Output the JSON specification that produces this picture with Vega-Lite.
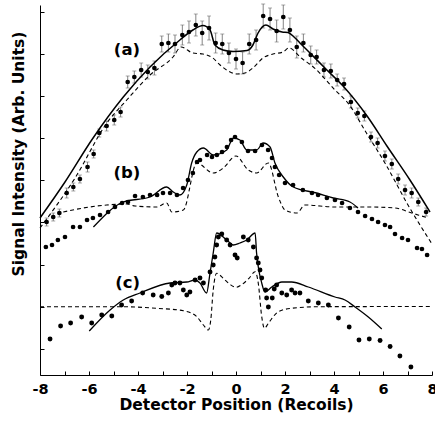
{
  "$schema": "https://vega.github.io/schema/vega-lite/v6.json",
  "width": 392,
  "height": 370,
  "autosize": {"type": "none"},
  "padding": {"left": 40, "top": 5, "right": 3, "bottom": 48},
  "background": "white",
  "config": {
    "view": {"stroke": null},
    "font": "DejaVu Sans",
    "axis": {
      "grid": false,
      "domainColor": "black",
      "domainWidth": 1,
      "tickColor": "black",
      "tickSize": -4,
      "tickWidth": 1,
      "labelFont": "DejaVu Sans",
      "labelFontWeight": "bold",
      "labelFontSize": 14.5,
      "labelColor": "black",
      "titleFont": "DejaVu Sans",
      "titleFontWeight": "bold",
      "titleFontSize": 15.5,
      "titleColor": "black"
    }
  },
  "datasets": {
    "a_pts": [
      {"x": -7.73, "y": 153, "e": 4}, {"x": -7.46, "y": 158, "e": 4}, {"x": -7.21, "y": 162, "e": 4},
      {"x": -6.91, "y": 182, "e": 5}, {"x": -6.64, "y": 188, "e": 4}, {"x": -6.37, "y": 196, "e": 4},
      {"x": -6.06, "y": 208, "e": 5}, {"x": -5.81, "y": 221, "e": 4}, {"x": -5.58, "y": 242, "e": 4},
      {"x": -5.28, "y": 249, "e": 5}, {"x": -4.97, "y": 255, "e": 5}, {"x": -4.71, "y": 263, "e": 5},
      {"x": -4.42, "y": 293, "e": 6}, {"x": -4.15, "y": 298, "e": 6}, {"x": -3.87, "y": 305, "e": 7},
      {"x": -3.6, "y": 303, "e": 7}, {"x": -3.33, "y": 307, "e": 7}, {"x": -3.03, "y": 331, "e": 8},
      {"x": -2.76, "y": 332, "e": 9}, {"x": -2.49, "y": 331, "e": 9}, {"x": -2.19, "y": 340, "e": 10},
      {"x": -1.92, "y": 343, "e": 11}, {"x": -1.64, "y": 350, "e": 11}, {"x": -1.38, "y": 342, "e": 12},
      {"x": -1.1, "y": 347, "e": 12}, {"x": -0.83, "y": 332, "e": 10}, {"x": -0.56, "y": 331, "e": 10},
      {"x": -0.29, "y": 322, "e": 10}, {"x": 0, "y": 316, "e": 10}, {"x": 0.27, "y": 312, "e": 11},
      {"x": 0.54, "y": 331, "e": 10}, {"x": 0.82, "y": 335, "e": 10}, {"x": 1.11, "y": 359, "e": 12},
      {"x": 1.39, "y": 356, "e": 11}, {"x": 1.66, "y": 344, "e": 11}, {"x": 1.93, "y": 358, "e": 12},
      {"x": 2.2, "y": 345, "e": 12}, {"x": 2.48, "y": 328, "e": 11}, {"x": 2.75, "y": 332, "e": 9},
      {"x": 3.05, "y": 320, "e": 9}, {"x": 3.29, "y": 318, "e": 7}, {"x": 3.59, "y": 305, "e": 7},
      {"x": 3.87, "y": 304, "e": 7}, {"x": 4.13, "y": 295, "e": 6}, {"x": 4.41, "y": 291, "e": 6},
      {"x": 4.69, "y": 273, "e": 6}, {"x": 4.97, "y": 262, "e": 5}, {"x": 5.24, "y": 259, "e": 5},
      {"x": 5.51, "y": 238, "e": 5}, {"x": 5.78, "y": 232, "e": 5}, {"x": 6.08, "y": 219, "e": 5},
      {"x": 6.36, "y": 211, "e": 5}, {"x": 6.62, "y": 196, "e": 5}, {"x": 6.9, "y": 185, "e": 5},
      {"x": 7.17, "y": 182, "e": 5}, {"x": 7.44, "y": 173, "e": 4}, {"x": 7.76, "y": 163, "e": 4}
    ],
    "a_fit": [
      {"x": -8, "y": 157}, {"x": -6.98, "y": 193}, {"x": -5.89, "y": 235}, {"x": -4.6, "y": 278},
      {"x": -3.51, "y": 308}, {"x": -2.29, "y": 335}, {"x": -1.76, "y": 345}, {"x": -1.35, "y": 349.5},
      {"x": -1.06, "y": 345}, {"x": -0.86, "y": 330}, {"x": -0.53, "y": 325}, {"x": -0.12, "y": 323.5},
      {"x": 0.45, "y": 324.5}, {"x": 0.69, "y": 330}, {"x": 0.9, "y": 342}, {"x": 1.22, "y": 350},
      {"x": 1.51, "y": 346}, {"x": 1.88, "y": 343}, {"x": 2.12, "y": 342.5}, {"x": 2.37, "y": 338},
      {"x": 2.61, "y": 332}, {"x": 3.02, "y": 322}, {"x": 3.71, "y": 305}, {"x": 4.37, "y": 289},
      {"x": 5.35, "y": 259}, {"x": 6.16, "y": 229}, {"x": 7.1, "y": 195}, {"x": 7.92, "y": 163}
    ],
    "a_dash": [
      {"x": -8, "y": 147}, {"x": -6.57, "y": 197}, {"x": -5.28, "y": 251.7}, {"x": -4.46, "y": 275},
      {"x": -3.51, "y": 300}, {"x": -2.57, "y": 318}, {"x": -2.24, "y": 328}, {"x": -1.76, "y": 322},
      {"x": -1.35, "y": 321}, {"x": -0.94, "y": 317}, {"x": -0.65, "y": 310}, {"x": -0.24, "y": 303},
      {"x": 0.04, "y": 301}, {"x": 0.37, "y": 302}, {"x": 0.69, "y": 307}, {"x": 1.1, "y": 317},
      {"x": 1.51, "y": 321}, {"x": 1.92, "y": 323}, {"x": 2.16, "y": 327}, {"x": 2.68, "y": 316.7},
      {"x": 3.22, "y": 306.7}, {"x": 4.04, "y": 285}, {"x": 4.58, "y": 271.7}, {"x": 5.33, "y": 241.7},
      {"x": 6.08, "y": 212}, {"x": 7.02, "y": 170}, {"x": 8, "y": 131}
    ],
    "b_pts": [
      {"x": -7.76, "y": 128}, {"x": -7.51, "y": 130}, {"x": -7.27, "y": 135}, {"x": -6.98, "y": 138},
      {"x": -6.65, "y": 148}, {"x": -6.37, "y": 148}, {"x": -6.08, "y": 155}, {"x": -5.84, "y": 157},
      {"x": -5.55, "y": 160}, {"x": -5.22, "y": 163}, {"x": -4.94, "y": 168}, {"x": -4.65, "y": 172},
      {"x": -4.41, "y": 173}, {"x": -4.12, "y": 179}, {"x": -3.8, "y": 178}, {"x": -3.51, "y": 180},
      {"x": -3.22, "y": 180}, {"x": -2.98, "y": 182}, {"x": -2.69, "y": 182}, {"x": -2.41, "y": 180},
      {"x": -2.16, "y": 187}, {"x": -1.96, "y": 195}, {"x": -1.76, "y": 202}, {"x": -1.59, "y": 213},
      {"x": -1.47, "y": 215}, {"x": -1.18, "y": 220}, {"x": -0.98, "y": 218}, {"x": -0.78, "y": 220},
      {"x": -0.57, "y": 223}, {"x": -0.37, "y": 228}, {"x": -0.2, "y": 235}, {"x": -0.04, "y": 238},
      {"x": 0.24, "y": 233}, {"x": 0.49, "y": 224}, {"x": 0.78, "y": 224}, {"x": 1.06, "y": 230},
      {"x": 1.31, "y": 225}, {"x": 1.47, "y": 217}, {"x": 1.59, "y": 208}, {"x": 1.76, "y": 200},
      {"x": 2.0, "y": 192}, {"x": 2.33, "y": 190}, {"x": 2.73, "y": 185}, {"x": 3.1, "y": 182},
      {"x": 3.35, "y": 180}, {"x": 3.71, "y": 177}, {"x": 4.04, "y": 175}, {"x": 4.33, "y": 172},
      {"x": 4.65, "y": 167}, {"x": 4.98, "y": 163}, {"x": 5.27, "y": 159}, {"x": 5.55, "y": 156},
      {"x": 5.8, "y": 153}, {"x": 6.08, "y": 150}, {"x": 6.29, "y": 148}, {"x": 6.49, "y": 141},
      {"x": 6.78, "y": 137}, {"x": 7.02, "y": 135}, {"x": 7.39, "y": 127}, {"x": 7.59, "y": 126},
      {"x": 7.8, "y": 120}
    ],
    "b_fit": [
      {"x": -5.82, "y": 148}, {"x": -4.6, "y": 173}, {"x": -3.51, "y": 178}, {"x": -2.83, "y": 188},
      {"x": -2.56, "y": 183}, {"x": -2.29, "y": 180}, {"x": -2.01, "y": 190}, {"x": -1.81, "y": 212},
      {"x": -1.6, "y": 223}, {"x": -1.33, "y": 227}, {"x": -0.93, "y": 220}, {"x": -0.38, "y": 225},
      {"x": -0.11, "y": 237}, {"x": 0.16, "y": 235}, {"x": 0.44, "y": 225}, {"x": 0.84, "y": 225},
      {"x": 1.11, "y": 232}, {"x": 1.39, "y": 228}, {"x": 1.59, "y": 212}, {"x": 1.93, "y": 198},
      {"x": 2.34, "y": 188}, {"x": 3.29, "y": 182}, {"x": 3.97, "y": 177}, {"x": 4.65, "y": 173},
      {"x": 4.98, "y": 167}
    ],
    "b_dash": [
      {"x": -7.05, "y": 163}, {"x": -6.23, "y": 167}, {"x": -5.28, "y": 170}, {"x": -4.46, "y": 171},
      {"x": -4.12, "y": 169}, {"x": -3.24, "y": 168}, {"x": -2.83, "y": 172}, {"x": -2.62, "y": 163},
      {"x": -2.15, "y": 165}, {"x": -1.6, "y": 212}, {"x": -0.93, "y": 202}, {"x": -0.52, "y": 207},
      {"x": 0, "y": 219}, {"x": 0.5, "y": 205}, {"x": 0.84, "y": 202}, {"x": 1.32, "y": 212},
      {"x": 1.73, "y": 178}, {"x": 2.0, "y": 165}, {"x": 2.48, "y": 162}, {"x": 2.82, "y": 170},
      {"x": 4.04, "y": 168}, {"x": 5.4, "y": 168}, {"x": 6.49, "y": 167}, {"x": 7.17, "y": 162},
      {"x": 7.85, "y": 157}
    ],
    "c_pts": [
      {"x": -7.59, "y": 36}, {"x": -7.16, "y": 49}, {"x": -6.75, "y": 52}, {"x": -6.3, "y": 58},
      {"x": -5.89, "y": 52}, {"x": -5.48, "y": 60}, {"x": -5.07, "y": 59}, {"x": -4.67, "y": 70},
      {"x": -4.26, "y": 74}, {"x": -3.81, "y": 82}, {"x": -3.38, "y": 80}, {"x": -3.03, "y": 78.5},
      {"x": -2.76, "y": 82}, {"x": -2.62, "y": 90}, {"x": -2.49, "y": 92}, {"x": -2.29, "y": 92},
      {"x": -2.15, "y": 85}, {"x": -2.01, "y": 80}, {"x": -1.88, "y": 83}, {"x": -1.67, "y": 95},
      {"x": -1.47, "y": 97}, {"x": -1.33, "y": 92}, {"x": -1.06, "y": 103}, {"x": -0.93, "y": 110},
      {"x": -0.86, "y": 118}, {"x": -0.79, "y": 130}, {"x": -0.72, "y": 138}, {"x": -0.58, "y": 141},
      {"x": -0.38, "y": 135}, {"x": -0.24, "y": 130}, {"x": -0.04, "y": 120}, {"x": 0.05, "y": 117},
      {"x": 0.3, "y": 138}, {"x": 0.5, "y": 135}, {"x": 0.71, "y": 128}, {"x": 0.84, "y": 117},
      {"x": 0.91, "y": 112}, {"x": 0.98, "y": 105}, {"x": 1.05, "y": 97}, {"x": 1.21, "y": 85},
      {"x": 1.25, "y": 77}, {"x": 1.32, "y": 68}, {"x": 1.48, "y": 77}, {"x": 1.56, "y": 86},
      {"x": 1.66, "y": 90}, {"x": 1.87, "y": 82}, {"x": 2.07, "y": 80}, {"x": 2.27, "y": 85},
      {"x": 2.41, "y": 82}, {"x": 2.61, "y": 82}, {"x": 2.95, "y": 74}, {"x": 3.36, "y": 72},
      {"x": 3.77, "y": 70}, {"x": 4.18, "y": 57}, {"x": 4.62, "y": 48}, {"x": 5.02, "y": 35},
      {"x": 5.44, "y": 36}, {"x": 5.88, "y": 34.5}, {"x": 6.29, "y": 28.5}, {"x": 6.69, "y": 19},
      {"x": 7.14, "y": 8}
    ],
    "c_fit": [
      {"x": -5.99, "y": 44}, {"x": -5.14, "y": 65}, {"x": -4.6, "y": 75}, {"x": -3.92, "y": 82},
      {"x": -2.69, "y": 92}, {"x": -2.01, "y": 93}, {"x": -1.67, "y": 95}, {"x": -1.47, "y": 92},
      {"x": -1.2, "y": 82}, {"x": -1.06, "y": 102}, {"x": -0.93, "y": 122}, {"x": -0.79, "y": 142},
      {"x": -0.38, "y": 135}, {"x": -0.11, "y": 130}, {"x": 0.16, "y": 132}, {"x": 0.44, "y": 135},
      {"x": 0.78, "y": 142}, {"x": 0.84, "y": 122}, {"x": 0.91, "y": 108}, {"x": 1.05, "y": 92},
      {"x": 1.18, "y": 83}, {"x": 1.46, "y": 88}, {"x": 1.87, "y": 93}, {"x": 2.27, "y": 93},
      {"x": 2.95, "y": 88}, {"x": 4.04, "y": 78}, {"x": 4.45, "y": 75}, {"x": 4.86, "y": 68},
      {"x": 5.4, "y": 58}, {"x": 5.95, "y": 46}
    ],
    "c_dash": [
      {"x": -8, "y": 68.3}, {"x": -4.73, "y": 68.3}, {"x": -3.24, "y": 66.7}, {"x": -2.15, "y": 64.3},
      {"x": -1.6, "y": 58.3}, {"x": -1.33, "y": 50}, {"x": -1.13, "y": 45}, {"x": -1.03, "y": 55},
      {"x": -0.93, "y": 85}, {"x": -0.79, "y": 101.7}, {"x": -0.52, "y": 96.7}, {"x": -0.24, "y": 90.5},
      {"x": 0, "y": 87.7}, {"x": 0.24, "y": 90.5}, {"x": 0.53, "y": 96.7}, {"x": 0.78, "y": 103.3},
      {"x": 0.91, "y": 91.7}, {"x": 1.05, "y": 58.3}, {"x": 1.16, "y": 46.7}, {"x": 1.32, "y": 51.7},
      {"x": 1.73, "y": 63.3}, {"x": 2.27, "y": 66.7}, {"x": 3.36, "y": 68.3}, {"x": 8, "y": 68.5}
    ],
    "labels": [
      {"x": -4.45, "y": 325, "t": "(a)"},
      {"x": -4.45, "y": 202, "t": "(b)"},
      {"x": -4.42, "y": 92, "t": "(c)"}
    ]
  },
  "encoding": {
    "x": {
      "field": "x",
      "type": "quantitative",
      "scale": {"domain": [-8, 8], "nice": false, "zero": false},
      "axis": {
        "title": "Detector Position (Recoils)",
        "values": [-8, -7, -6, -5, -4, -3, -2, -1, 0, 1, 2, 3, 4, 5, 6, 7, 8],
        "labelExpr": "datum.value % 2 == 0 ? '' + datum.value : ''",
        "labelPadding": 11,
        "labelFlush": false,
        "labelOverlap": false,
        "titleY": 34.5,
        "titleBaseline": "alphabetic"
      }
    },
    "y": {
      "field": "y",
      "type": "quantitative",
      "scale": {"domain": [0, 370], "nice": false, "zero": false},
      "axis": {
        "title": "Signal Intensity (Arb. Units)",
        "values": [26, 68, 110, 153, 195, 237, 279, 321, 363],
        "labels": false,
        "titleAngle": 270,
        "titleAlign": "center",
        "titleBaseline": "middle",
        "titleX": -21.5,
        "titleY": 148.5
      }
    }
  },
  "layer": [
    {
      "data": {"name": "a_pts"},
      "mark": {"type": "errorbar", "ticks": {"size": 4, "color": "#666"}, "color": "#666", "thickness": 0.8},
      "encoding": {"yError": {"field": "e"}}
    },
    {
      "data": {"name": "a_pts"},
      "mark": {"type": "circle", "size": 22, "color": "black", "opacity": 1}
    },
    {
      "data": {"name": "a_fit"},
      "mark": {"type": "line", "color": "black", "strokeWidth": 1.5, "interpolate": "monotone"}
    },
    {
      "data": {"name": "a_dash"},
      "mark": {"type": "line", "color": "black", "strokeWidth": 1.1, "strokeDash": [4, 3], "interpolate": "monotone"}
    },
    {
      "data": {"name": "b_pts"},
      "mark": {"type": "circle", "size": 22, "color": "black", "opacity": 1}
    },
    {
      "data": {"name": "b_fit"},
      "mark": {"type": "line", "color": "black", "strokeWidth": 1.3, "interpolate": "monotone"}
    },
    {
      "data": {"name": "b_dash"},
      "mark": {"type": "line", "color": "black", "strokeWidth": 1.1, "strokeDash": [4, 3], "interpolate": "monotone"}
    },
    {
      "data": {"name": "c_pts"},
      "mark": {"type": "circle", "size": 24, "color": "black", "opacity": 1}
    },
    {
      "data": {"name": "c_fit"},
      "mark": {"type": "line", "color": "black", "strokeWidth": 1.3, "interpolate": "monotone"}
    },
    {
      "data": {"name": "c_dash"},
      "mark": {"type": "line", "color": "black", "strokeWidth": 1.1, "strokeDash": [4, 3], "interpolate": "monotone"}
    },
    {
      "data": {"name": "labels"},
      "mark": {"type": "text", "font": "DejaVu Sans", "fontWeight": "bold", "fontSize": 16.5, "color": "black", "baseline": "middle", "align": "center"},
      "encoding": {"text": {"field": "t"}}
    }
  ]
}
